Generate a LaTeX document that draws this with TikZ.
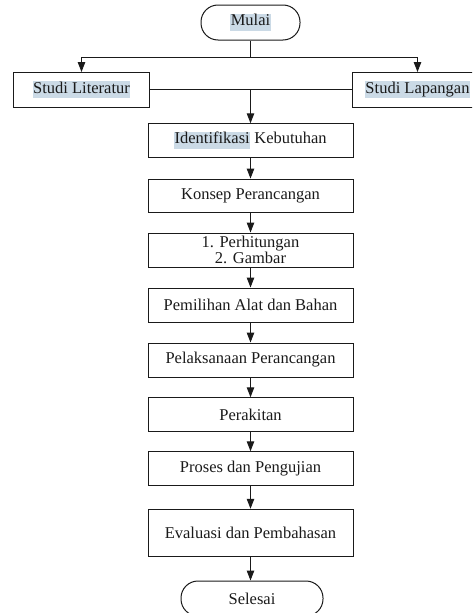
\documentclass[tikz,border=0pt]{standalone}
\usepackage{fontspec}
\setmainfont{Liberation Serif}
\usetikzlibrary{arrows.meta}
\definecolor{hlc}{HTML}{CBDAE6}
\definecolor{ink}{HTML}{1A1A1A}
\newcommand\hlt[1]{{\setlength\fboxsep{0.4pt}\colorbox{hlc}{\strut#1}}}
\begin{document}
\begin{tikzpicture}[x=1pt,y=-1pt,
  font=\fontsize{16.5}{16.5}\selectfont,
  ln/.style={draw=ink,line width=1pt},
  procbox/.style={draw=ink,line width=1pt,rectangle,minimum width=205pt,minimum height=33.5pt,inner sep=1pt,align=center,text=ink},
  pill/.style={draw=ink,line width=1pt,rectangle,rounded corners=17pt,minimum height=35pt,inner sep=1pt,text=ink},
  arr/.style={ln,-{Triangle[length=10pt,width=7.5pt]}}]
\path[use as bounding box] (0,0) rectangle (472,613);
\clip (0,0) rectangle (472,613);
\node[pill,minimum width=99pt] (mulai) at (250.5,22.5) {\hlt{Mulai}};
\node[procbox,minimum width=135.5pt,minimum height=34.5pt] (lit) at (81.5,89.75) {\hlt{Studi Literatur}};
\node[procbox,minimum width=130pt,minimum height=34.5pt] (lap) at (417.5,89.75) {\hlt{Studi Lapangan}};
\node[procbox] (ident) at (250.5,140.5) {\hlt{Identifikasi} Kebutuhan};
\node[procbox] (konsep) at (250.5,195.8) {Konsep Perancangan};
\node[procbox,minimum height=34pt] (hitung) at (250.5,250) {1. Perhitungan\\2. Gambar};
\node[procbox,minimum height=34pt] (pilih) at (250.5,305) {Pemilihan Alat dan Bahan};
\node[procbox,minimum height=34pt] (laksana) at (250.5,360) {Pelaksanaan Perancangan};
\node[procbox] (rakit) at (250.5,414.5) {Perakitan};
\node[procbox] (proses) at (250.5,468.5) {Proses dan Pengujian};
\node[procbox,minimum height=47.5pt] (eval) at (250.5,533) {Evaluasi dan Pembahasan};
\node[pill,minimum width=142pt] (selesai) at (252,598.5) {Selesai};
\coordinate (j1) at (250.5,57.3);
\coordinate (j2) at (250.5,89.75);
\draw[ln] (mulai.south) -- (j1);
\draw[arr] (j1) -| (lit.north);
\draw[arr] (j1) -| (lap.north);
\draw[ln] (lit.east) -- (lap.west);
\draw[arr] (j2) -- (ident.north);
\draw[arr] (ident.south) -- (konsep.north);
\draw[arr] (konsep.south) -- (hitung.north);
\draw[arr] (hitung.south) -- (pilih.north);
\draw[arr] (pilih.south) -- (laksana.north);
\draw[arr] (laksana.south) -- (rakit.north);
\draw[arr] (rakit.south) -- (proses.north);
\draw[arr] (proses.south) -- (eval.north);
\draw[arr] (eval.south) -- (selesai.north -| eval.south);
\end{tikzpicture}
\end{document}
